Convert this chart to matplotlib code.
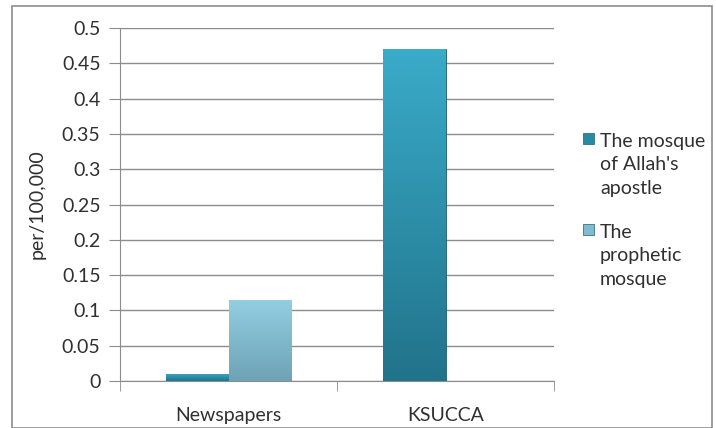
import matplotlib.pyplot as plt
import numpy as np
from matplotlib.patches import Rectangle

# ============================
# Data
# ============================
categories = ["Newspapers", "KSUCCA"]
series_names = ["The mosque\nof Allah's\napostle", "The\nprophetic\nmosque"]
apostle_vals = [0.01, 0.47]
prophetic_vals = [0.115, 0.0]
y_ticks = [0, 0.05, 0.1, 0.15, 0.2, 0.25, 0.3, 0.35, 0.4, 0.45, 0.5]
y_tick_labels = ["0", "0.05", "0.1", "0.15", "0.2", "0.25", "0.3", "0.35", "0.4", "0.45", "0.5"]

plt.rcParams["font.family"] = ["Lato", "DejaVu Sans"]
TXT = "#303030"

colors_top = ["#3aabc9", "#93cee2"]
colors_bot = ["#21738a", "#6ea3b5"]
legend_colors = ["#2a8aa6", "#7fbcd0"]

fig = plt.figure(figsize=(7.16, 4.28), dpi=100)
fig.patches.append(Rectangle((12 / 716, 0), 700 / 716, 1 - 6 / 428, transform=fig.transFigure,
                             fill=False, edgecolor="#8c8c8c", linewidth=1.2))
ax = fig.add_axes([120 / 716, 1 - 381 / 428, 434 / 716, 353 / 428])

x = np.arange(len(categories))
w = 0.29


def shaded_bars(xpos, vals, top, bot):
    bars = ax.bar(xpos, vals, w, color=bot, edgecolor="#1d5f70", linewidth=0.6, zorder=3)
    grad = np.linspace(0, 1, 100).reshape(-1, 1)
    c_top = np.array(plt.matplotlib.colors.to_rgb(top))
    c_bot = np.array(plt.matplotlib.colors.to_rgb(bot))
    img = c_bot + (c_top - c_bot) * grad[..., None]
    for b in bars:
        if b.get_height() <= 0:
            continue
        x0, y0 = b.get_x(), b.get_y()
        im = ax.imshow(img, extent=[x0, x0 + b.get_width(), y0, y0 + b.get_height()],
                       origin="lower", aspect="auto", zorder=3.5)
        im.set_clip_path(b)
    return bars


shaded_bars(x - w / 2, apostle_vals, colors_top[0], colors_bot[0])
shaded_bars(x + w / 2, prophetic_vals, colors_top[1], colors_bot[1])

ax.set_xlim(-0.5, 1.5)
ax.set_ylim(0, 0.5)
ax.set_yticks(y_ticks)
ax.set_yticklabels(y_tick_labels)
ax.set_xticks(x)
ax.set_xticklabels(categories)
ax.set_xticks([-0.5, 0.5, 1.5], minor=True)
ax.tick_params(axis="x", which="major", length=0, pad=19, labelsize=14, labelcolor=TXT)
ax.tick_params(axis="x", which="minor", length=7, color="#8c8c8c")
ax.tick_params(axis="y", length=8, color="#8c8c8c", labelsize=14, pad=6, labelcolor=TXT)
ax.yaxis.grid(True, color="#8c8c8c", linewidth=1.0, zorder=0)
ax.set_axisbelow(True)
for s in ["top", "right"]:
    ax.spines[s].set_visible(False)
ax.spines["left"].set_color("#8c8c8c")
ax.spines["bottom"].set_color("#8c8c8c")
ax.set_ylabel("per/100,000", fontsize=14, labelpad=12, color=TXT)

# legend built by hand so the swatch sits on the first text line
leg_y = [139, 230]
for name, c, ly in zip(series_names, legend_colors, leg_y):
    fig.patches.append(Rectangle((583 / 716, 1 - (ly + 5) / 428), 11 / 716, 11 / 428,
                                 transform=fig.transFigure, facecolor=c,
                                 edgecolor="#1d5f70", linewidth=0.5))
    fig.text(600 / 716, 1 - (ly - 6) / 428, name, fontsize=14, color=TXT,
             va="top", ha="left", linespacing=1.45)

fig.savefig("out.png", dpi=100)
